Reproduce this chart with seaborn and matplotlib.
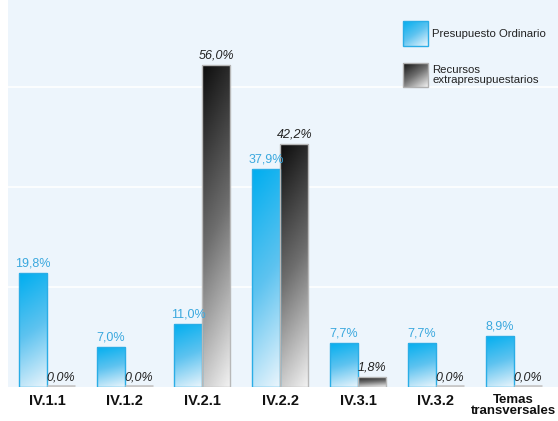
import numpy as np
import pandas as pd
import matplotlib
matplotlib.use("Agg")
import matplotlib.pyplot as plt
from matplotlib.colors import LinearSegmentedColormap
from matplotlib.patches import Rectangle
import seaborn as sns

categories = ["IV.1.1", "IV.1.2", "IV.2.1", "IV.2.2", "IV.3.1", "IV.3.2", "Temas\ntransversales"]
ordinario = [19.8, 7.0, 11.0, 37.9, 7.7, 7.7, 8.9]
extrapresupuestario = [0.0, 0.0, 56.0, 42.2, 1.8, 0.0, 0.0]
series_names = ["Presupuesto Ordinario", "Recursos\nextrapresupuestarios"]

df = pd.DataFrame({
    "categoria": categories * 2,
    "serie": [series_names[0]] * len(categories) + [series_names[1]] * len(categories),
    "valor": ordinario + extrapresupuestario,
})

sns.set_theme(style="white")
plt.rcParams["font.family"] = ["Liberation Sans Narrow", "Liberation Sans", "DejaVu Sans"]

BG = "#EDF5FC"
BLUE_EDGE = "#2AADE6"
BLUE_TEXT = "#3AA8DE"
blue_cmap = LinearSegmentedColormap.from_list("azul", ["#00AEEF", "#5EC3F0", "#EAF5FC"])
grey_cmap = LinearSegmentedColormap.from_list("gris", ["#0D0D0D", "#6E6E6E", "#F2F2F2"])

fig = plt.figure(figsize=(5.58, 4.21), dpi=100)
fig.patch.set_facecolor("white")
ax = fig.add_axes([8 / 558, 34 / 421, 550 / 558, 387 / 421])
ax.set_facecolor(BG)

sns.barplot(data=df, x="categoria", y="valor", hue="serie", order=categories,
            hue_order=series_names, width=0.72, dodge=True, ax=ax,
            palette=["#00AEEF", "#333333"], legend=False, saturation=1)

ax.set_xlim(-0.5, 6.57)
ax.set_ylim(0, 67.3)
for g in [17.4, 34.8, 52.2]:
    ax.axhline(g, color="white", lw=1.2, zorder=0.5)


def gradient_fill(axis, patch, cmap, zorder):
    x0, y0 = patch.get_x(), patch.get_y()
    w, h = patch.get_width(), patch.get_height()
    yy, xx = np.mgrid[0:1:100j, 0:1:30j]
    z = 0.85 * yy + 0.15 * xx
    img = axis.imshow(z, cmap=cmap, extent=(x0, x0 + w, y0, y0 + h), origin="lower",
                      aspect="auto", zorder=zorder, vmin=0, vmax=1,
                      interpolation="bilinear")
    # flip so the dark end sits at the top of the bar
    img.set_data(z[::-1])
    img.set_clip_path(patch)
    return img


n = len(categories)
patches = list(ax.patches)
for i, p in enumerate(patches[:2 * n]):
    is_blue = i < n
    val = p.get_height()
    cx = p.get_x() + p.get_width() / 2
    p.set_zorder(3)
    if is_blue:
        gradient_fill(ax, p, blue_cmap, 2.5)
        p.set_facecolor("none")
        p.set_edgecolor(BLUE_EDGE)
        p.set_linewidth(1.0)
        ax.text(cx, val + 0.6, f"{val:.1f}%".replace(".", ","), ha="center", va="bottom",
                color=BLUE_TEXT, fontsize=9)
    else:
        if val > 0:
            gradient_fill(ax, p, grey_cmap, 2.5)
            p.set_facecolor("none")
            p.set_edgecolor("#B8B8B8")
            p.set_linewidth(1.0)
        else:
            p.set_facecolor("none")
            p.set_edgecolor("none")
            x0 = p.get_x()
            ax.plot([x0, x0 + p.get_width()], [0.15, 0.15], color="#C8C8C8", lw=2.0,
                    solid_capstyle="butt", zorder=3)
        ax.text(cx, val + 0.6, f"{val:.1f}%".replace(".", ","), ha="center", va="bottom",
                color="#222222", fontsize=9, style="italic")

ax.set_xlabel("")
ax.set_ylabel("")
ax.set_yticks([])
ax.tick_params(axis="x", length=0, pad=5)
ax.set_xticks(range(n))
ax.set_xticklabels(categories, fontsize=10.5, fontweight="bold", color="#111111",
                   linespacing=0.85, family=["Liberation Sans", "DejaVu Sans"])
ax.get_xticklabels()[-1].set_fontsize(9.5)
for s in ax.spines.values():
    s.set_visible(False)

# legend drawn with gradient swatches
leg_items = [(series_names[0], blue_cmap, BLUE_EDGE, 0.945), (series_names[1], grey_cmap, "#B0B0B0", 0.838)]
for label, cmap, edge, ytop in leg_items:
    sw = Rectangle((0.719, ytop - 0.064), 0.045, 0.064, transform=ax.transAxes,
                   facecolor="none", edgecolor=edge, lw=1.0, zorder=5)
    ax.add_patch(sw)
    yy, xx = np.mgrid[0:1:50j, 0:1:50j]
    z = 0.6 * yy + 0.4 * xx
    im = ax.imshow(z, cmap=cmap, extent=(0.719, 0.764, ytop - 0.064, ytop),
                   transform=ax.transAxes, aspect="auto", zorder=4, vmin=0, vmax=1,
                   interpolation="bilinear", origin="upper")
    im.set_clip_path(sw)
    ax.text(0.771, ytop - 0.032, label, transform=ax.transAxes, ha="left", va="center",
            fontsize=8.2, color="#222222", linespacing=0.95,
            family=["Liberation Sans", "DejaVu Sans"])

ax.set_xlim(-0.5, 6.57)
ax.set_ylim(0, 67.3)
fig.savefig("out.png", dpi=100, facecolor="white")
